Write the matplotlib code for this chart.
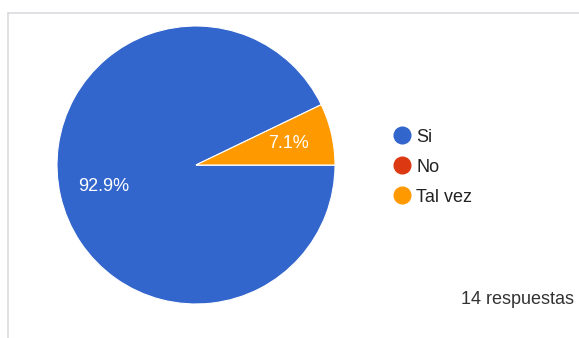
import matplotlib
matplotlib.use('Agg')
import matplotlib.pyplot as plt
from matplotlib.lines import Line2D

# respuestas por opcion
labels = ['Si', 'No', 'Tal vez']
counts = [13, 0, 1]
colors = ['#3366cc', '#dc3912', '#ff9900']
total_text = '14 respuestas'

plt.rcParams['font.family'] = ['Liberation Sans', 'DejaVu Sans']

fig = plt.figure(figsize=(5.79, 3.38), dpi=100)
fig.patch.set_facecolor('white')

# marco gris del recuadro
fig.add_artist(Line2D([8 / 579, 1], [1 - 12.5 / 338, 1 - 12.5 / 338],
                      color='#dadce0', lw=1.2, transform=fig.transFigure))
fig.add_artist(Line2D([8 / 579, 8 / 579], [0, 1 - 12.5 / 338],
                      color='#dadce0', lw=1.2, transform=fig.transFigure))

ax = fig.add_axes([57 / 579, 34 / 338, 278 / 579, 278 / 338])


def pct_label(p):
    return f'{p:.1f}%' if p > 0.5 else ''


start = 360 * counts[2] / sum(counts)
wedges, texts, autotexts = ax.pie(
    counts, colors=colors, startangle=start, counterclock=True,
    autopct=pct_label, pctdistance=0.68,
    wedgeprops=dict(edgecolor='white', linewidth=0.8),
    textprops=dict(color='white', fontsize=13))
ax.set_aspect('equal')
ax.set_xlim(-1, 1)
ax.set_ylim(-1, 1)

handles = [Line2D([], [], marker='o', linestyle='', markersize=12,
                  markerfacecolor=c, markeredgecolor=c) for c in colors]
fig.legend(handles, labels, loc='center left',
           bbox_to_anchor=(393 / 579, 1 - 167 / 338), frameon=False,
           fontsize=13, labelspacing=0.72, handletextpad=0.3,
           handlelength=1.0, borderpad=0, borderaxespad=0,
           labelcolor='#222222')

fig.text(574 / 579, 1 - 300 / 338, total_text, ha='right', va='center',
         fontsize=13, color='#333333')

fig.savefig('out.png', dpi=100, facecolor='white')
